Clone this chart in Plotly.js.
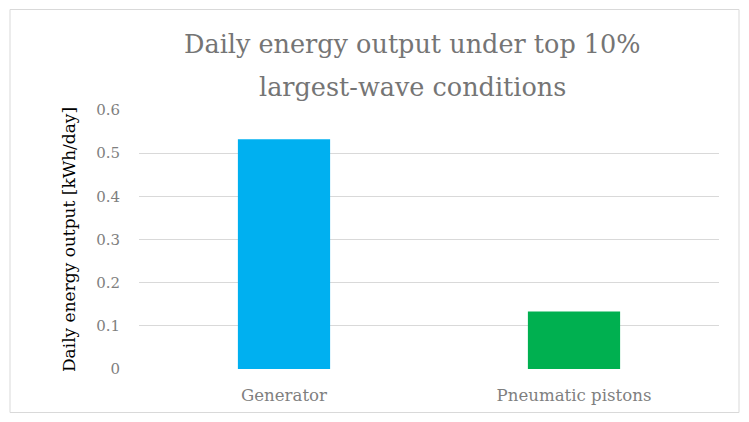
<!DOCTYPE html>
<html>
<head>
<meta charset="utf-8">
<script src="https://cdn.plot.ly/plotly-3.0.1.min.js"></script>
<style>
  html, body { margin: 0; padding: 0; background: #fff; }
  #chart { width: 749px; height: 422px; }
</style>
</head>
<body>
<div id="chart"></div>
<script>
const categories = ['Generator', 'Pneumatic pistons'];
const dailyOutput = [0.532, 0.133];
const barColors = ['#00B0F0', '#00B050'];
const yTicks = [0, 0.1, 0.2, 0.3, 0.4, 0.5, 0.6];
const yTickLabels = ['0', '0.1', '0.2', '0.3', '0.4', '0.5', '0.6'];
const titleLines = ['Daily energy output under top 10%', 'largest-wave conditions'];

const serif = '"DejaVu Serif", "Liberation Serif", serif';

const trace = {
    x: categories,
    y: dailyOutput,
    type: 'bar',
    width: 0.318,
    marker: { color: barColors, line: { width: 0 } },
    hoverinfo: 'none'
};

// title drawn as two annotations so the line spacing matches
const titleY = [1.255, 1.09];
const annotations = titleLines.map((t, i) => ({
    text: t,
    xref: 'paper', yref: 'paper',
    x: 0.472, y: titleY[i],
    xanchor: 'center', yanchor: 'middle',
    showarrow: false,
    font: { family: serif, size: 25.5, color: '#757575' }
}));

const layout = {
    width: 749,
    height: 422,
    paper_bgcolor: '#ffffff',
    plot_bgcolor: '#ffffff',
    margin: { l: 139, r: 30, t: 110, b: 53 },
    showlegend: false,
    font: { family: serif, color: '#7f7f7f' },
    annotations: annotations,
    xaxis: {
        type: 'category',
        showgrid: false,
        zeroline: false,
        showline: false,
        ticks: '',
        ticklabelstandoff: 14,
        tickfont: { family: serif, size: 16.6, color: '#7f7f7f' }
    },
    yaxis: {
        range: [0, 0.6],
        tickvals: yTicks,
        ticktext: yTickLabels,
        showgrid: true,
        gridcolor: '#d9d9d9',
        gridwidth: 1,
        zeroline: false,
        showline: false,
        ticks: '',
        ticklabelstandoff: 18,
        tickfont: { family: serif, size: 15, color: '#7f7f7f' },
        title: {
            text: 'Daily energy output [kWh/day]',
            font: { family: serif, size: 17, color: '#000000' },
            standoff: 16
        }
    },
    shapes: [{
        type: 'rect',
        xref: 'paper', yref: 'paper',
        x0: -0.2224, x1: 1.0345,
        y0: -0.168, y1: 1.388,
        line: { color: '#d9d9d9', width: 1 },
        fillcolor: 'rgba(0,0,0,0)',
        layer: 'below'
    }]
};

Plotly.newPlot('chart', [trace], layout, { displayModeBar: false, staticPlot: true });
</script>
</body>
</html>
